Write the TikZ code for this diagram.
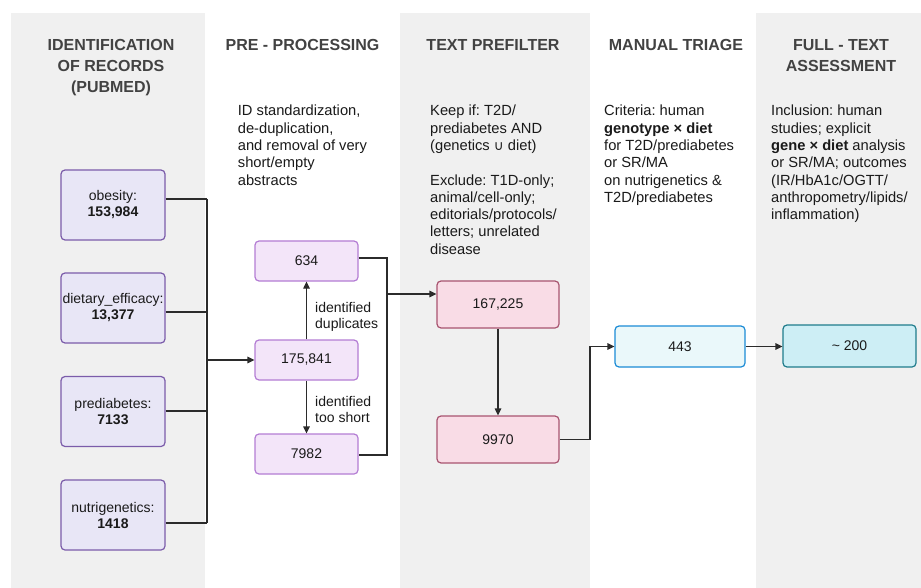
\documentclass[tikz,border=0pt]{standalone}
\usepackage{fontspec}
\setmainfont{Liberation Sans}
\newfontfamily\djv{DejaVu Sans}
\usetikzlibrary{arrows.meta}
\frenchspacing
\definecolor{panel}{HTML}{F0F0F0}
\definecolor{hdrgray}{HTML}{424242}
\definecolor{txt}{HTML}{1A1A1A}
\definecolor{lnk}{HTML}{2B2B2B}
\definecolor{srcfill}{HTML}{E8E6F6}
\definecolor{srcline}{HTML}{7B5CAA}
\definecolor{ppfill}{HTML}{F3E5F9}
\definecolor{ppline}{HTML}{B47DD4}
\definecolor{tffill}{HTML}{F9DCE6}
\definecolor{tfline}{HTML}{A85470}
\definecolor{mtfill}{HTML}{EAF8FA}
\definecolor{mtline}{HTML}{1B8BD6}
\definecolor{ftfill}{HTML}{CDEEF5}
\definecolor{ftline}{HTML}{1F7C8C}
\tikzset{
  hdr/.style={font=\fontsize{16}{21}\selectfont\bfseries, text=hdrgray, align=center, anchor=north, inner sep=0pt},
  body/.style={font=\fontsize{14.7}{17.3}\selectfont, text=txt, align=left, anchor=north west, inner sep=0pt},
  lbl/.style={font=\fontsize{14}{16.3}\selectfont, text=txt, align=left, anchor=north west, inner sep=0pt},
  box/.style={rounded corners=4pt, line width=1.2pt, font=\fontsize{14}{16}\selectfont, text=txt, align=center, inner sep=0pt},
  srcbox/.style={box, fill=srcfill, draw=srcline, minimum width=104pt, minimum height=70pt},
  ppbox/.style={box, fill=ppfill, draw=ppline, minimum width=103pt, minimum height=40pt},
  tfbox/.style={box, fill=tffill, draw=tfline, minimum width=122pt, minimum height=47pt},
  mtbox/.style={box, fill=mtfill, draw=mtline, minimum width=130pt, minimum height=41pt},
  ftbox/.style={box, fill=ftfill, draw=ftline, minimum width=133pt, minimum height=42pt},
  link/.style={draw=lnk, line width=1.2pt},
  arr/.style={link, -{Triangle[length=7pt,width=6.5pt]}}
}
\begin{document}
\begin{tikzpicture}[x=1pt,y=-1pt]
\useasboundingbox (0,0) rectangle (921,588);
\fill[white] (0,0) rectangle (921,588);
% panels
\fill[panel] (11,13) rectangle (205,588);
\fill[panel] (400,13) rectangle (590,588);
\fill[panel] (756,13) rectangle (921,588);

% headers
\node[hdr] (h1) at (111,39) {IDENTIFICATION\\OF RECORDS\\(PUBMED)};
\node[hdr] (h2) at (302.5,39) {PRE - PROCESSING};
\node[hdr] (h3) at (493,39) {TEXT PREFILTER};
\node[hdr] (h4) at (676,39) {MANUAL TRIAGE};
\node[hdr] (h5) at (841,39) {FULL - TEXT\\ASSESSMENT};

% descriptions
\node[body] (d2) at (237.7,105) {ID standardization,\\de-duplication,\\and removal of very\\short/empty\\abstracts};
\node[body] (d3) at (430,105) {Keep if: T2D/\\prediabetes AND\\(genetics {\djv\fontsize{13.5}{17.3}\selectfont ∪} diet)\\[17.3pt]Exclude: T1D-only;\\animal/cell-only;\\editorials/protocols/\\letters; unrelated\\disease};
\node[body] (d4) at (604,105) {Criteria: human\\\textbf{genotype × diet}\\for T2D/prediabetes\\or SR/MA\\on nutrigenetics \&\\T2D/prediabetes};
\node[body] (d5) at (771,105) {Inclusion: human\\studies; explicit\\\textbf{gene × diet} analysis\\or SR/MA; outcomes\\(IR/HbA1c/OGTT/\\anthropometry/lipids/\\inflammation)};

% source boxes
\node[srcbox] (ob) at (113,205) {obesity:\\\textbf{153,984}};
\node[srcbox] (de) at (113,308) {dietary\_efficacy:\\\textbf{13,377}};
\node[srcbox] (pd) at (113,411.5) {prediabetes:\\\textbf{7133}};
\node[srcbox] (ng) at (113,515) {nutrigenetics:\\\textbf{1418}};

% pre-processing boxes
\node[ppbox] (p1) at (306.5,261) {634};
\node[ppbox] (p2) at (306.5,360) {175,841};
\node[ppbox] (p3) at (306.5,454) {7982};

% prefilter boxes
\node[tfbox] (t1) at (498,304.5) {167,225};
\node[tfbox] (t2) at (498,439.5) {9970};

% triage / full text
\node[mtbox] (m1) at (680,346.5) {443};
\node[ftbox] (f1) at (849.5,346) {\char`~\ 200};

% left bus
\coordinate (b1) at (207,199);
\coordinate (b2) at (207,312);
\coordinate (b3) at (207,411);
\coordinate (b4) at (207,523);
\draw[link] (ob.east |- b1) -- (b1);
\draw[link] (de.east |- b2) -- (b2);
\draw[link] (pd.east |- b3) -- (b3);
\draw[link] (ng.east |- b4) -- (b4);
\draw[link] (b1) -- (b4);
\draw[arr] (b1 |- p2.west) -- (p2.west);

% pre-processing arrows
\draw[arr] (p2.north) -- (p1.south);
\draw[arr] (p2.south) -- (p3.north);
\node[lbl] (l1) at (315,302) {identified\\duplicates};
\node[lbl] (l2) at (315,396) {identified\\too short};

% right bus of pre-processing
\coordinate (r1) at (387,258);
\coordinate (r2) at (387,455);
\coordinate (ra) at (387,294);
\draw[link] (p1.east |- r1) -- (r1) -- (r2) -- (p3.east |- r2);
\draw[arr] (ra) -- (t1.west |- ra);

% prefilter flow
\draw[arr] (t1.south) -- (t2.north);
\coordinate (tb) at (590,346.5);
\draw[arr] (t2.east) -| (tb) -- (m1.west);
\draw[arr] (m1.east) -- (f1.west |- m1.east);
\end{tikzpicture}
\end{document}
